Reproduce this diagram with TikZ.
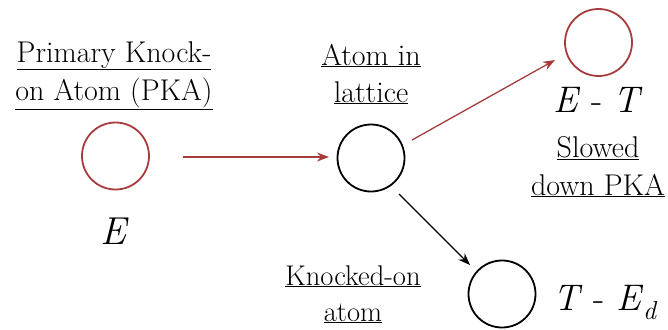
\documentclass[tikz,border=0pt]{standalone}
\usetikzlibrary{arrows.meta}
\definecolor{dred}{HTML}{A63C3C}
\tikzset{
  atom/.style={circle,draw,line width=1.8pt,minimum size=67pt,inner sep=0pt},
  lbl/.style={anchor=base,inner sep=0pt,font=\fontsize{30}{36}\selectfont},
  sml/.style={anchor=base,inner sep=0pt,font=\fontsize{28.5}{34}\selectfont},
  sym/.style={anchor=base,inner sep=0pt,font=\fontsize{37}{44}\selectfont},
  arr/.style={line width=1.3pt,-{Stealth[length=12pt,width=9pt]}}
}
\begin{document}
\begin{tikzpicture}[x=1pt,y=-1pt]
\useasboundingbox (0,0) rectangle (668,329);
\node[atom,draw=dred] (pka) at (115.5,156) {};
\node[atom] (lat) at (371,158) {};
\node[atom,draw=dred] (slow) at (598.5,42.5) {};
\node[atom] (ko) at (502,294) {};

\node[lbl] (t1) at (114,62) {\underline{Primary Knock-}};
\node[lbl] (t2) at (114,100) {\underline{on Atom (PKA)}};
\node[sym,font=\fontsize{39}{44}\selectfont] (e) at (115,244) {\textit{E}};

\node[lbl] (t3) at (371,65) {\underline{Atom in}};
\node[lbl] (t4) at (371,102) {\underline{lattice}};

\node[sym] (et) at (598,112) {\textit{E} - \textit{T}};
\node[lbl] (t5) at (598,157) {\underline{Slowed}};
\node[lbl] (t6) at (598,195) {\underline{down PKA}};

\node[sml] (t7) at (353,285) {\underline{Knocked-on}};
\node[sml] (t8) at (353,321) {\underline{atom}};
\node[sym,anchor=base west] (ted) at (553,310) {\textit{T} - \textit{E}\textsubscript{\textit{d}}};

\coordinate (a1) at (183,157);
\coordinate (a2) at (329,157);
\coordinate (b1) at (412,140);
\coordinate (b2) at (555,60);
\coordinate (c1) at (399,194);
\coordinate (c2) at (470,265);
\draw[arr,dred] (a1) -- (a2);
\draw[arr,dred] (b1) -- (b2);
\draw[arr,black] (c1) -- (c2);
\end{tikzpicture}
\end{document}
